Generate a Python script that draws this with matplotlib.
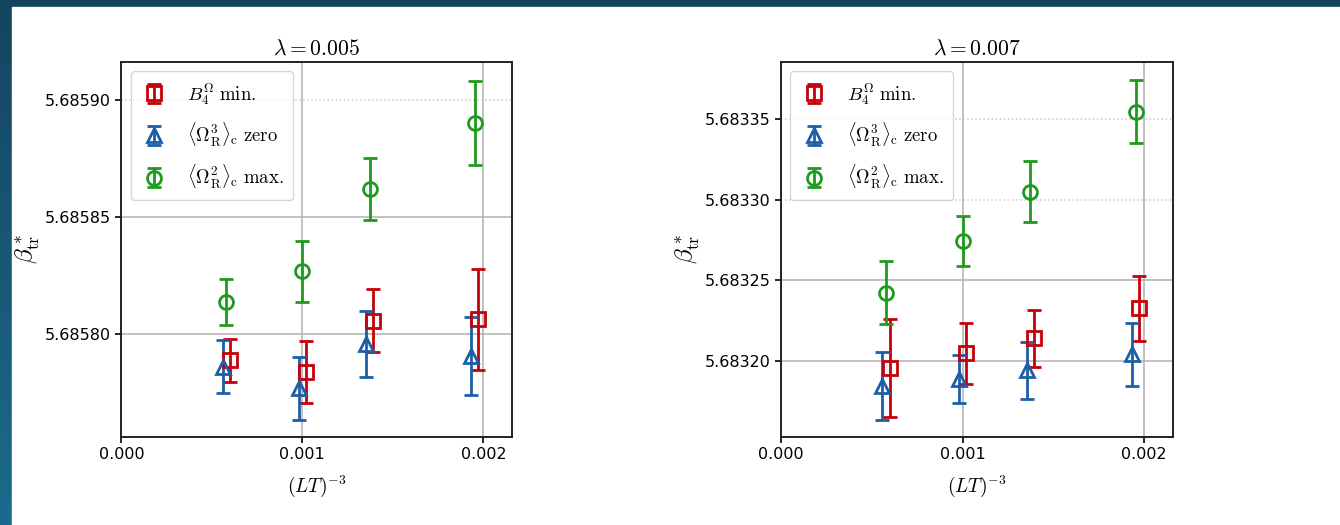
import numpy as np
import matplotlib
matplotlib.use("Agg")
from matplotlib import pyplot as plt
from matplotlib.ticker import MultipleLocator, FormatStrFormatter
from matplotlib.patches import Rectangle

plt.rcParams['mathtext.fontset'] = 'cm'

# x = (LT)^-3 for LT = 12, 10, 9, 8
x_vals = [0.000579, 0.001, 0.001372, 0.001953]

# lambda = 0.005
b4_005 = [5.6857887, 5.6857838, 5.6858057, 5.6858062]
b4_005_err = [0.0000091, 0.0000133, 0.0000135, 0.0000215]
om3_005 = [5.6857860, 5.6857767, 5.6857957, 5.6857907]
om3_005_err = [0.0000112, 0.0000134, 0.0000139, 0.0000166]
om2_005 = [5.6858137, 5.6858267, 5.6858619, 5.6858901]
om2_005_err = [0.0000098, 0.0000131, 0.0000131, 0.0000179]

# lambda = 0.007
b4_007 = [5.6831957, 5.6832046, 5.6832139, 5.6832325]
b4_007_err = [0.0000305, 0.0000187, 0.0000176, 0.0000200]
om3_007 = [5.6831844, 5.6831888, 5.6831940, 5.6832040]
om3_007_err = [0.0000212, 0.0000147, 0.0000178, 0.0000196]
om2_007 = [5.6832423, 5.6832744, 5.6833050, 5.6833546]
om2_007_err = [0.0000195, 0.0000155, 0.0000191, 0.0000197]

titles = [r'$\lambda = 0.005$', r'$\lambda = 0.007$']
labels = [r'$B_4^{\Omega}\ \mathrm{min.}$',
          r'$\langle\Omega_{\mathrm{R}}^3\rangle_{\mathrm{c}}\ \mathrm{zero}$',
          r'$\langle\Omega_{\mathrm{R}}^2\rangle_{\mathrm{c}}\ \mathrm{max.}$']

red = '#c8000a'
blue = '#1c5ea8'
green = '#1e9b1e'
dodge = 0.00002

fig = plt.figure(figsize=(13.4, 5.25), dpi=100)

# dark blue frame on the top and left edges
bg = fig.add_axes([0, 0, 1, 1], zorder=-10)
grad = np.linspace(0, 1, 256).reshape(-1, 1)
cmap = matplotlib.colors.LinearSegmentedColormap.from_list('bg', ['#1c6b8d', '#15445f'])
bg.imshow(grad, aspect='auto', cmap=cmap, extent=[0, 1, 0, 1], origin='lower')
bg.add_patch(Rectangle((12 / 1340, 0), 1, 1 - 7 / 525, color='white'))
bg.set_xlim(0, 1)
bg.set_ylim(0, 1)
bg.axis('off')

ax1 = fig.add_axes([0.0906, 0.1676, 0.2917, 0.7143])
ax2 = fig.add_axes([0.5828, 0.1676, 0.2928, 0.7143])

panels = [
    (ax1, b4_005, b4_005_err, om3_005, om3_005_err, om2_005, om2_005_err,
     (5.685756, 5.685916), [5.68590]),
    (ax2, b4_007, b4_007_err, om3_007, om3_007_err, om2_007, om2_007_err,
     (5.6831527, 5.6833854), [5.68335, 5.68330]),
]

for i, (ax, b4, b4e, o3, o3e, o2, o2e, ylim, dotted) in enumerate(panels):
    xs = np.array(x_vals)
    kw = dict(ls='none', mfc='none', ms=10, mew=2, elinewidth=2, capsize=5, capthick=2)
    ax.errorbar(xs + dodge, b4, yerr=b4e, fmt='s', color=red, label=labels[0], **kw)
    ax.errorbar(xs - dodge, o3, yerr=o3e, fmt='^', color=blue, label=labels[1], **kw)
    ax.errorbar(xs, o2, yerr=o2e, fmt='o', color=green, label=labels[2], **kw)

    ax.set_xlim(0, 0.00216)
    ax.set_ylim(*ylim)
    ax.xaxis.set_major_locator(MultipleLocator(0.001))
    ax.xaxis.set_major_formatter(FormatStrFormatter('%.3f'))
    ax.yaxis.set_major_locator(MultipleLocator(0.00005))
    ax.yaxis.set_major_formatter(FormatStrFormatter('%.5f'))
    ax.tick_params(labelsize=11.5, width=1.2, length=4)
    ax.grid(True, color='#b0b0b0', lw=1.1)
    ax.set_axisbelow(True)
    for sp in ax.spines.values():
        sp.set_linewidth(1.4)
        sp.set_color('#222222')

    # gridlines crossing the legend look dotted in the original
    fig.canvas.draw()
    for val, gl in zip(ax.get_yticks(), ax.get_ygridlines()):
        if any(abs(val - d) < 1e-9 for d in dotted):
            gl.set_linestyle(':')
            gl.set_color('#c8c8c8')

    ax.set_title(titles[i], fontsize=15.5, pad=5)
    ax.set_xlabel(r'$(LT)^{-3}$', fontsize=14, labelpad=8)
    ax.set_ylabel(r'$\beta^*_{\mathrm{tr}}$', fontsize=18, labelpad=2)
    ax.legend(loc='upper left', fontsize=13.5, borderpad=0.5, handletextpad=1.0,
              labelspacing=0.75, handlelength=1.5, borderaxespad=0.5)

fig.savefig('out.png', dpi=100)
